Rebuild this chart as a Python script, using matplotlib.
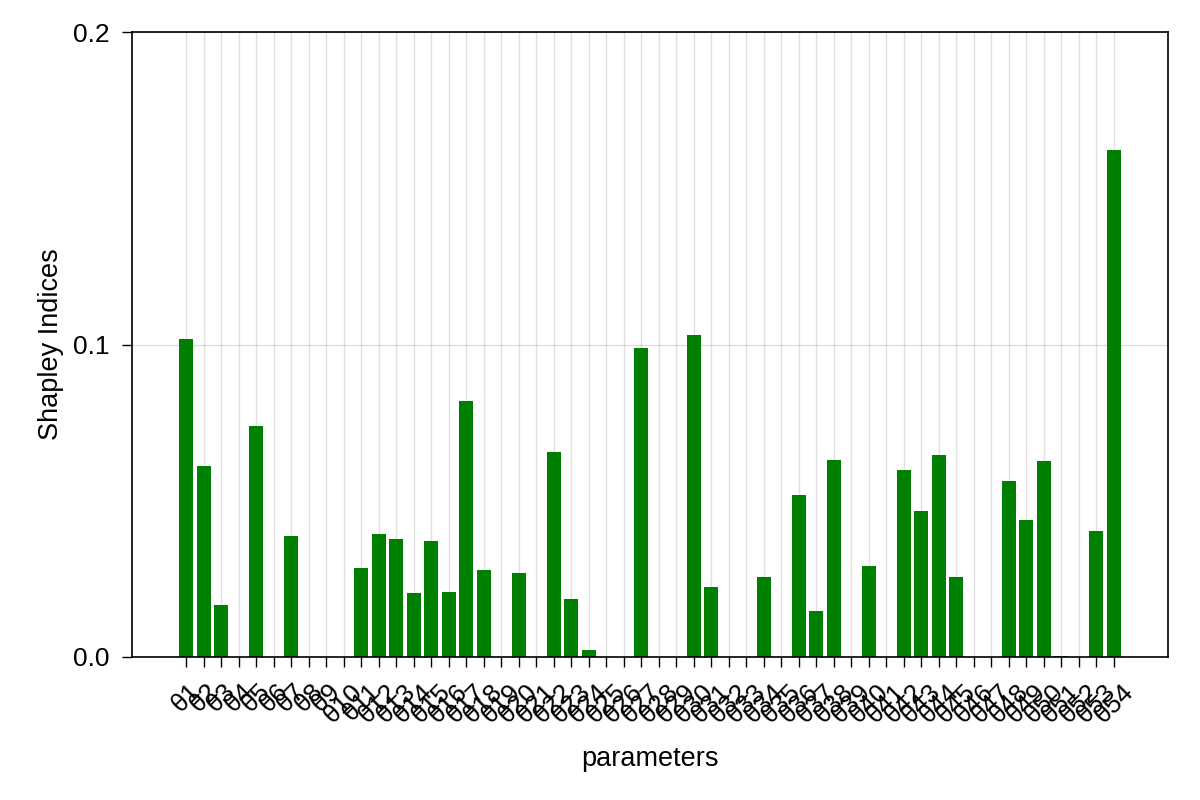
import matplotlib
matplotlib.use("Agg")
import matplotlib.pyplot as plt

plt.rcParams["font.family"] = ["Liberation Sans", "DejaVu Sans"]

# parameter names and their Shapley indices
params = [f"θ{i}" for i in range(1, 55)]
shapley = [
    0.1018, 0.0612, 0.0167, 0.0, 0.0739, 0.0, 0.0388, 0.0, 0.0, 0.0,
    0.0285, 0.0393, 0.0377, 0.0206, 0.0371, 0.0208, 0.0820, 0.0279, 0.0, 0.0269,
    0.0, 0.0656, 0.0186, 0.0023, 0.0, 0.0, 0.0990, 0.0, 0.0, 0.1031,
    0.0223, 0.0, 0.0, 0.0255, 0.0, 0.0519, 0.0148, 0.0630, 0.0, 0.0291,
    0.0, 0.0597, 0.0468, 0.0648, 0.0255, 0.0, 0.0, 0.0563, 0.0437, 0.0626,
    0.0004, 0.0, 0.0403, 0.1622,
]
yticks = [0.0, 0.1, 0.2]
ytick_labels = ["0.0", "0.1", "0.2"]

fig = plt.figure(figsize=(12, 8), dpi=100)
ax = fig.add_axes([0.11, 0.17875, 0.8633, 0.78125])

x = list(range(1, len(params) + 1))
ax.bar(x, shapley, width=0.8, color="green", zorder=2)

ax.set_xlim(-2.09, 57.09)
ax.set_ylim(0, 0.2)
ax.set_xticks(x)
ax.set_xticklabels(params, rotation=45, ha="center", va="top", fontsize=19)
ax.set_yticks(yticks)
ax.set_yticklabels(ytick_labels, fontsize=19)

ax.grid(True, color="black", alpha=0.12, linewidth=1, zorder=0)
ax.set_axisbelow(True)
ax.tick_params(axis="both", direction="out", length=7, width=1, color="black")
ax.tick_params(axis="x", pad=9)
ax.tick_params(axis="y", pad=9)
for s in ax.spines.values():
    s.set_linewidth(1.2)

ax.set_xlabel("parameters", fontsize=19.5)
ax.set_ylabel("Shapley Indices", fontsize=19.5)
ax.xaxis.set_label_coords(0.5, -0.143)
ax.yaxis.set_label_coords(-0.066, 0.5)

fig.savefig("out.png", dpi=100)
